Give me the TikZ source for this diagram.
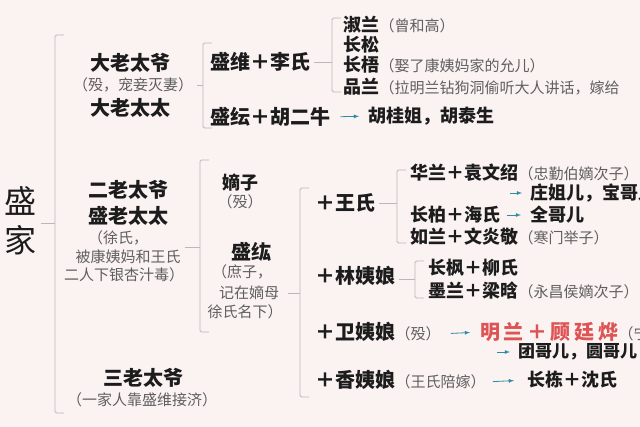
\documentclass[tikz,border=0pt]{standalone}
\usepackage{fontspec}
\usepackage{tikz}
\usetikzlibrary{arrows}
\usepackage{xcolor}
\newfontfamily\cjk{Noto Sans CJK SC}
\newfontfamily\cjkwide{Noto Sans CJK SC}[LetterSpace=18]
\definecolor{bgpink}{RGB}{251,242,242}
\definecolor{ink}{RGB}{28,28,28}
\definecolor{notegray}{RGB}{95,95,95}
\definecolor{brkgray}{RGB}{185,185,185}
\definecolor{arrteal}{RGB}{45,140,165}
\definecolor{redname}{RGB}{222,84,84}

\begin{document}
\begin{tikzpicture}[x=1pt,y=-1pt,
  rootname/.style={font=\cjk\fontsize{32}{39}\selectfont, text=ink, inner sep=0pt, align=center},
  member/.style={font=\cjk\bfseries\fontsize{20}{24}\selectfont, text=ink, inner sep=0pt},
  kid/.style={font=\cjk\bfseries\fontsize{18}{21}\selectfont, text=ink, inner sep=0pt},
  note/.style={font=\cjk\fontsize{15}{18}\selectfont, text=notegray, inner sep=0pt},
  brk/.style={draw=brkgray, line width=0.8pt, rounded corners=1.5pt},
  tick/.style={draw=brkgray, line width=0.8pt, shorten <=4pt},
  arr/.style={->, >=latex, draw=arrteal, line width=0.8pt, shorten <=7pt, shorten >=11pt}]

% Background and page size
\useasboundingbox (0,0) rectangle (640,427);
\fill[bgpink] (0,0) rectangle (640,427);

% Brackets: x, top, bottom
\foreach \bx/\btop/\bbot in {55/35/413, 203/43/128, 332/18/92, 200/160/332, 300/188/397, 397/170/243, 415/261/298}
  \draw[brk] ({\bx+9},\btop) -- (\bx,\btop) -- (\bx,\bbot) -- ({\bx+9},\bbot);

\coordinate (bA) at (55,223);
\coordinate (bB) at (203,85);
\coordinate (bC) at (332,62);
\coordinate (bD) at (200,247);
\coordinate (bE) at (300,293);
\coordinate (bF) at (397,203);
\coordinate (bG) at (415,279);

% Root
\node[rootname] (root) at (21,221) {盛\\家};
\draw[tick] (root.east |- bA) -- (bA);

% First branch
\node[member] (dalaoye) at (130,63) {大老太爷};
\node[note] (dalaonote) at (133,85) {（殁，宠妾灭妻）};
\node[member] (dalaotai) at (130,108) {大老太太};
\draw[tick] (dalaonote.east) -- (bB);

\node[member, anchor=west] (shengwei) at (210,62) {盛维＋李氏};
\node[member, anchor=west] (shengyun) at (210,117) {盛纭＋胡二牛};
\draw[tick] (shengwei.east) -- (bC);

\node[kid, anchor=west] (shulan) at (343,25) {淑兰};
\node[note, anchor=base west] at (shulan.base east) {（曾和高）};
\node[kid, anchor=west] (changsong) at (343,45) {长松};
\node[kid, anchor=west] (changwu) at (343,65) {长梧};
\node[note, anchor=base west] at (changwu.base east) {（娶了康姨妈家的允儿）};
\node[kid, anchor=west] (pinlan) at (343,87) {品兰};
\node[note, anchor=base west] at (pinlan.base east) {（拉明兰钻狗洞偷听大人讲话，嫁给};

\node[kid, anchor=west] (hukids) at (368,116) {胡桂姐，胡泰生};
\draw[arr, shorten <=10pt, shorten >=9pt] (shengyun.east) -- (hukids.west);

% Second branch
\node[member] (erlaoye) at (128,190) {二老太爷};
\node[member] (shenglaotai) at (128,216) {盛老太太};
\node[note] (xunote1) at (118,238) {（徐氏，};
\node[note] (xunote2) at (128,257) {被康姨妈和王氏};
\node[note] (xunote3) at (124,275) {二人下银杏汁毒）};
\draw[tick] (xunote2.east |- bD) -- (bD);

\node[kid] (dizi) at (240,183) {嫡子};
\node[note] (dizinote) at (240,202) {（殁）};
\node[member] (shenghong) at (251,252) {盛纮};
\node[note] (shunote1) at (242,272) {（庶子，};
\node[note] (shunote2) at (249,293) {记在嫡母};
\node[note] (shunote3) at (245,312) {徐氏名下）};
\draw[tick, shorten <=9pt] (shunote2.east) -- (bE);

\node[member, anchor=west] (wang) at (315,203) {＋王氏};
\draw[tick] (wang.east) -- (bF);
\node[kid, anchor=west] (hualan) at (410,173) {华兰＋袁文绍};
\node[note, anchor=base west] at (hualan.base east) {（忠勤伯嫡次子）};
\coordinate (zhuangS) at (510,193);
\node[kid, anchor=west] (zhuang) at (530,193) {庄姐儿，宝哥儿};
\draw[arr, shorten <=0pt, shorten >=8pt] (zhuangS) -- (zhuang.west);
\node[kid, anchor=west] (changbai) at (410,215) {长柏＋海氏};
\node[kid, anchor=west] (quan) at (530,215) {全哥儿};
\draw[arr, shorten >=9pt] (changbai.east) -- (quan.west);
\node[kid, anchor=west] (rulan) at (410,237) {如兰＋文炎敬};
\node[note, anchor=base west] at (rulan.base east) {（寒门举子）};

\node[member, anchor=west] (lin) at (315,276) {＋林姨娘};
\draw[tick] (lin.east |- bG) -- (bG);
\node[kid, anchor=west] (changfeng) at (428,268) {长枫＋柳氏};
\node[kid, anchor=west] (molan) at (428,291) {墨兰＋梁晗};
\node[note, anchor=base west] at (molan.base east) {（永昌侯嫡次子）};

\node[member, anchor=west] (wei) at (315,332) {＋卫姨娘};
\node[note, anchor=base west] (weinote) at (wei.base east) {（殁）};
\node[member, anchor=west, font=\cjkwide\bfseries\fontsize{20}{24}\selectfont, text=redname] (minglan) at (480,332) {明兰＋顾廷烨};
\node[note, anchor=base west] at (minglan.base east) {（宁};
\draw[arr, shorten <=10pt, shorten >=10pt] (weinote.east) -- (minglan.west);
\coordinate (tuanS) at (497,352);
\node[kid, anchor=west, font=\cjk\bfseries\fontsize{17}{20}\selectfont] (tuan) at (518,352) {团哥儿，圆哥儿，};
\draw[arr, shorten <=0pt, shorten >=8pt] (tuanS) -- (tuan.west);

\node[member, anchor=west] (xiang) at (315,380) {＋香姨娘};
\node[note, anchor=base west] (xiangnote) at (xiang.base east) {（王氏陪嫁）};
\node[kid, anchor=west] (changdong) at (527,380) {长栋＋沈氏};
\draw[arr, shorten >=13pt] (xiangnote.east) -- (changdong.west);

% Third branch
\node[member] (sanlaoye) at (143,378) {三老太爷};
\node[note] (sannote) at (142,400) {（一家人靠盛维接济）};

\end{tikzpicture}
\end{document}
